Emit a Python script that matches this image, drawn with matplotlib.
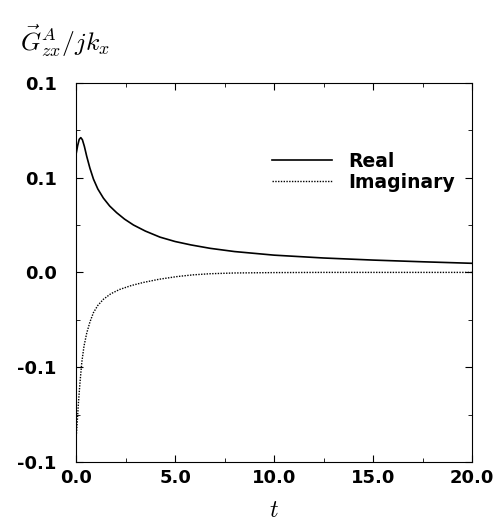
import numpy as np
import matplotlib
matplotlib.use("Agg")
from matplotlib import pyplot as plt
from matplotlib.ticker import MultipleLocator, FixedLocator, FixedFormatter

plt.rcParams['mathtext.fontset'] = 'cm'

# values
t_real = [0.0, 0.08, 0.16, 0.24, 0.32, 0.42, 0.54, 0.7, 0.88, 1.1, 1.38, 1.7, 2.05, 2.45, 2.9,
          3.5, 4.24, 5.0, 5.8, 6.77, 8.0, 10.0, 12.5, 15.0, 17.5, 20.0]
real = [0.0623, 0.0668, 0.0702, 0.0711, 0.0700, 0.0665, 0.0612, 0.0550, 0.0492, 0.0440, 0.0392,
        0.0350, 0.0315, 0.0281, 0.0250, 0.0218, 0.0186, 0.0163, 0.0145, 0.0127, 0.0110, 0.0091,
        0.0076, 0.0065, 0.0056, 0.0048]

t_imag = [0.0, 0.06, 0.12, 0.2, 0.29, 0.4, 0.54, 0.7, 0.88, 1.1, 1.38, 1.75, 2.2, 2.8, 3.4,
          4.2, 5.1, 5.9, 6.77, 8.0, 10.0, 12.5, 15.0, 17.5, 20.0]
imag = [-0.0880, -0.0790, -0.0690, -0.0580, -0.0475, -0.0390, -0.0320, -0.0262, -0.0212, -0.0174,
        -0.0142, -0.0113, -0.0090, -0.0069, -0.0053, -0.0036, -0.0022, -0.0013, -0.0007,
        -0.0003, -0.0001, 0.0, 0.0, 0.0, 0.0]

y_ticks = [-0.1, -0.05, 0.0, 0.05, 0.1]
y_labels = ["-0.1", "-0.1", "0.0", "0.1", "0.1"]

fig = plt.figure(figsize=(4.97, 5.31), dpi=100)
ax = fig.add_axes([0.153, 0.130, 0.797, 0.714])

ax.plot(t_real, real, color="black", lw=1.2, label="Real")
ax.plot(t_imag, imag, color="black", lw=1.0, linestyle=(0, (1, 1)), label="Imaginary")

ax.set_xlim(0, 20)
ax.set_ylim(-0.1, 0.1)
ax.xaxis.set_major_locator(MultipleLocator(5))
ax.xaxis.set_minor_locator(MultipleLocator(2.5))
ax.yaxis.set_major_locator(FixedLocator(y_ticks))
ax.yaxis.set_major_formatter(FixedFormatter(y_labels))
ax.yaxis.set_minor_locator(MultipleLocator(0.025))
ax.set_xticks([0, 5, 10, 15, 20])
ax.set_xticklabels(["0.0", "5.0", "10.0", "15.0", "20.0"])
ax.tick_params(which="both", direction="in", top=True, right=True)
ax.tick_params(which="major", length=5, labelsize=13)
ax.tick_params(axis="x", which="major", pad=5)
ax.tick_params(axis="y", which="major", pad=14)
ax.tick_params(which="minor", length=3)
for lab in ax.get_xticklabels() + ax.get_yticklabels():
    lab.set_fontweight("bold")

ax.legend(loc="upper left", bbox_to_anchor=(0.472, 0.843), frameon=False,
          borderpad=0, handlelength=3.2, handletextpad=0.85, labelspacing=0.12,
          prop={"weight": "bold", "size": 13.5})

fig.text(0.04, 0.905, r"$\vec{G}^{A}_{zx}/jk_x$", fontsize=18.5)
ax.set_xlabel(r"$t$", fontsize=17, labelpad=8)

fig.savefig("out.png", dpi=100)
